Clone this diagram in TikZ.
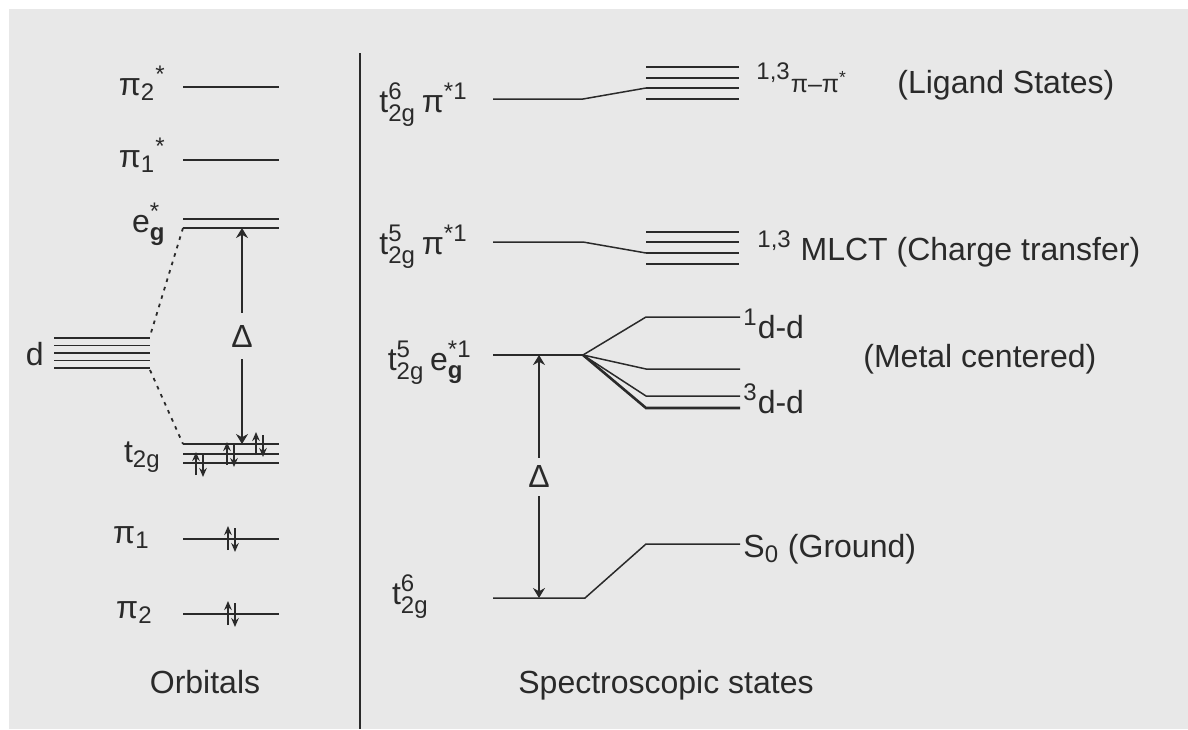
\documentclass[tikz,border=0pt]{standalone}
\usepackage{fontspec}
\usepackage{amsmath}
\setmainfont{Liberation Sans}
\DeclareMathSizes{16}{16}{12}{10}
\usetikzlibrary{arrows.meta}
\definecolor{panel}{HTML}{E8E8E8}
\definecolor{ink}{HTML}{2A2A2A}
\begin{document}
\begin{tikzpicture}[x=0.5pt,y=-0.5pt,
  level/.style={line width=0.75pt, draw=ink},
  heavy/.style={line width=1.3pt, draw=ink},
  corr/.style={line width=0.9pt, draw=ink, dash pattern=on 1.8pt off 2.6pt},
  gaparrow/.style={{Stealth[length=5pt,width=6pt]}-{Stealth[length=5pt,width=6pt]}, line width=0.75pt, draw=ink},
  spin/.style={-{Stealth[length=4.5pt,width=3.8pt]}, line width=0.85pt, draw=ink},
  lbl/.style={inner sep=0pt, text=ink, font=\fontsize{16}{19}\selectfont},
  gaplbl/.style={lbl, fill=panel, inner xsep=2pt, inner ysep=5pt},
]
\useasboundingbox (0,0) rectangle (1188,729);
\fill[white] (0,0) rectangle (1188,729);
\fill[panel] (9,9) rectangle (1188,729);

% divider between the two panels
\draw[line width=1.1pt, draw=ink] (360,53) -- (360,729);

% ---------------- Orbitals ----------------
% pi* levels
\coordinate (pi2sL) at (183,87);  \coordinate (pi2sR) at (279,87);
\coordinate (pi1sL) at (183,160); \coordinate (pi1sR) at (279,160);
\draw[level] (pi2sL) -- (pi2sR);
\draw[level] (pi1sL) -- (pi1sR);
% e_g* pair
\coordinate (egAL) at (183,219); \coordinate (egAR) at (279,219);
\coordinate (egBL) at (183,228); \coordinate (egBR) at (279,228);
\draw[level] (egAL) -- (egAR);
\draw[level] (egBL) -- (egBR);
% five degenerate d orbitals
\foreach \yy in {338,345.5,353,360.5,368}
  \draw[level] (54,\yy) -- (150,\yy);
\coordinate (dTop) at (150,336);
\coordinate (dBot) at (150,370);
% t2g set
\coordinate (tAL) at (183,444); \coordinate (tAR) at (279,444);
\coordinate (tBL) at (183,454); \coordinate (tBR) at (279,454);
\coordinate (tCL) at (183,463); \coordinate (tCR) at (279,463);
\draw[level] (tAL) -- (tAR);
\draw[heavy] (tBL) -- (tBR);
\draw[level] (tCL) -- (tCR);
% filled pi levels
\coordinate (pi1L) at (183,539); \coordinate (pi1R) at (279,539);
\coordinate (pi2L) at (183,614); \coordinate (pi2R) at (279,614);
\draw[level] (pi1L) -- (pi1R);
\draw[level] (pi2L) -- (pi2R);

% correlation lines of the ligand-field splitting
\draw[corr] (egBL) -- (dTop);
\draw[corr] (dBot) -- (tAL);

% splitting Delta
\coordinate (dlTop) at (242,228);
\coordinate (dlBot) at (242,444);
\draw[gaparrow] (dlTop) -- node[gaplbl, inner ysep=6pt] (deltaL) {Δ} (dlBot);

% electron pairs
\foreach \xx/\yu/\yd in {196/452/455, 227/442/445, 256/432/435} {
  \draw[spin] (\xx,\yu+23) -- (\xx,\yu);
  \draw[spin] (\xx+7,\yd) -- (\xx+7,\yd+22);
}
\foreach \yc in {539,614} {
  \draw[spin] (228,\yc+11) -- (228,\yc-13);
  \draw[spin] (235,\yc-11) -- (235,\yc+13);
}

% orbital labels
\node[lbl, anchor=base east] (lpi2s) at (166,95)  {$\text{π}_{\text{2}}{}^{\text{*}}$};
\node[lbl, anchor=base east] (lpi1s) at (166,167) {$\text{π}_{\text{1}}{}^{\text{*}}$};
\node[lbl, anchor=base east] (legs)  at (166,232) {$\text{e}_{\textbf{g}}^{\text{*}}$};
\node[lbl, anchor=base east] (ld)    at (44,365)  {d};
\node[lbl, anchor=base east] (lt2g)  at (161,462) {$\text{t}_{\text{2g}}$};
\node[lbl, anchor=base east] (lpi1)  at (150,543) {$\text{π}_{\text{1}}$};
\node[lbl, anchor=base east] (lpi2)  at (153,618) {$\text{π}_{\text{2}}$};
\node[lbl, anchor=base] (lorb) at (205,693) {Orbitals};

% ---------------- Spectroscopic states ----------------
% t2g^6 pi*^1 -> ligand states
\coordinate (aL) at (493,99); \coordinate (aM) at (583,99); \coordinate (aS) at (646,88);
\draw[level] (aL) -- (aM) -- (aS);
\draw[heavy] (646,67) -- (739,67);
\foreach \yy in {78,88,99}
  \draw[level] (646,\yy) -- (739,\yy);

% t2g^5 pi*^1 -> MLCT
\coordinate (bL) at (493,242); \coordinate (bM) at (583,242); \coordinate (bS) at (646,253);
\draw[level] (bL) -- (bM) -- (bS);
\foreach \yy in {232,242,253,264}
  \draw[level] (646,\yy) -- (739,\yy);

% t2g^5 eg*^1 -> d-d states
\coordinate (cL) at (493,355); \coordinate (cM) at (583,355);
\coordinate (c1) at (646,317); \coordinate (c1e) at (740,317);
\coordinate (c2) at (646,369); \coordinate (c2e) at (740,369);
\coordinate (c3) at (646,396); \coordinate (c3e) at (740,396);
\coordinate (c4) at (646,408); \coordinate (c4e) at (740,408);
\draw[level] (cL) -- (cM);
\draw[level] (cM) -- (c1) -- (c1e);
\draw[level] (cM) -- (c2) -- (c2e);
\draw[level] (cM) -- (c3) -- (c3e);
\draw[heavy] (cM) -- (c4) -- (c4e);

% ground state
\coordinate (gL) at (493,598); \coordinate (gM) at (585,598);
\coordinate (gS) at (646,544); \coordinate (gE) at (740,544);
\draw[level] (gL) -- (gM) -- (gS) -- (gE);

% Delta between ground and metal-centred configurations
\coordinate (drTop) at (539,355);
\coordinate (drBot) at (539,598);
\draw[gaparrow] (drTop) -- node[gaplbl, inner ysep=4pt] (deltaR) {Δ} (drBot);

% configuration labels
\node[lbl, anchor=base east] (la) at (468,112) {$\text{t}^{\text{6}}_{\text{2g}}\,\text{π}^{\text{*1}}$};
\node[lbl, anchor=base east] (lb) at (468,254) {$\text{t}^{\text{5}}_{\text{2g}}\,\text{π}^{\text{*1}}$};
\node[lbl, anchor=base east] (lc) at (472,370) {$\text{t}^{\text{5}}_{\text{2g}}\,\text{e}^{\text{*1}}_{\textbf{g}}$};
\node[lbl, anchor=base east] (lg) at (429,604) {$\text{t}^{\text{6}}_{\text{2g}}$};

% state labels
\node[lbl, anchor=base west] (sa)  at (756,92)  {$^{\text{1,3}}$\fontsize{12.5}{14}\selectfont π–π$^{\text{*}}$};
\node[lbl, anchor=base west] (sa2) at (897,93)  {(Ligand States)};
\node[lbl, anchor=base west] (sb)  at (757,260) {$^{\text{1,3}}$ MLCT (Charge transfer)};
\node[lbl, anchor=base west] (sc1) at (743,338) {$^{\text{1}}$d-d};
\node[lbl, anchor=base west] (sc2) at (863,367) {(Metal centered)};
\node[lbl, anchor=base west] (sc3) at (743,413) {$^{\text{3}}$d-d};
\node[lbl, anchor=base west] (sg)  at (743,557) {S$_{\text{0}}$ (Ground)};
\node[lbl, anchor=base] (lspec) at (666,693) {Spectroscopic states};
\end{tikzpicture}
\end{document}
